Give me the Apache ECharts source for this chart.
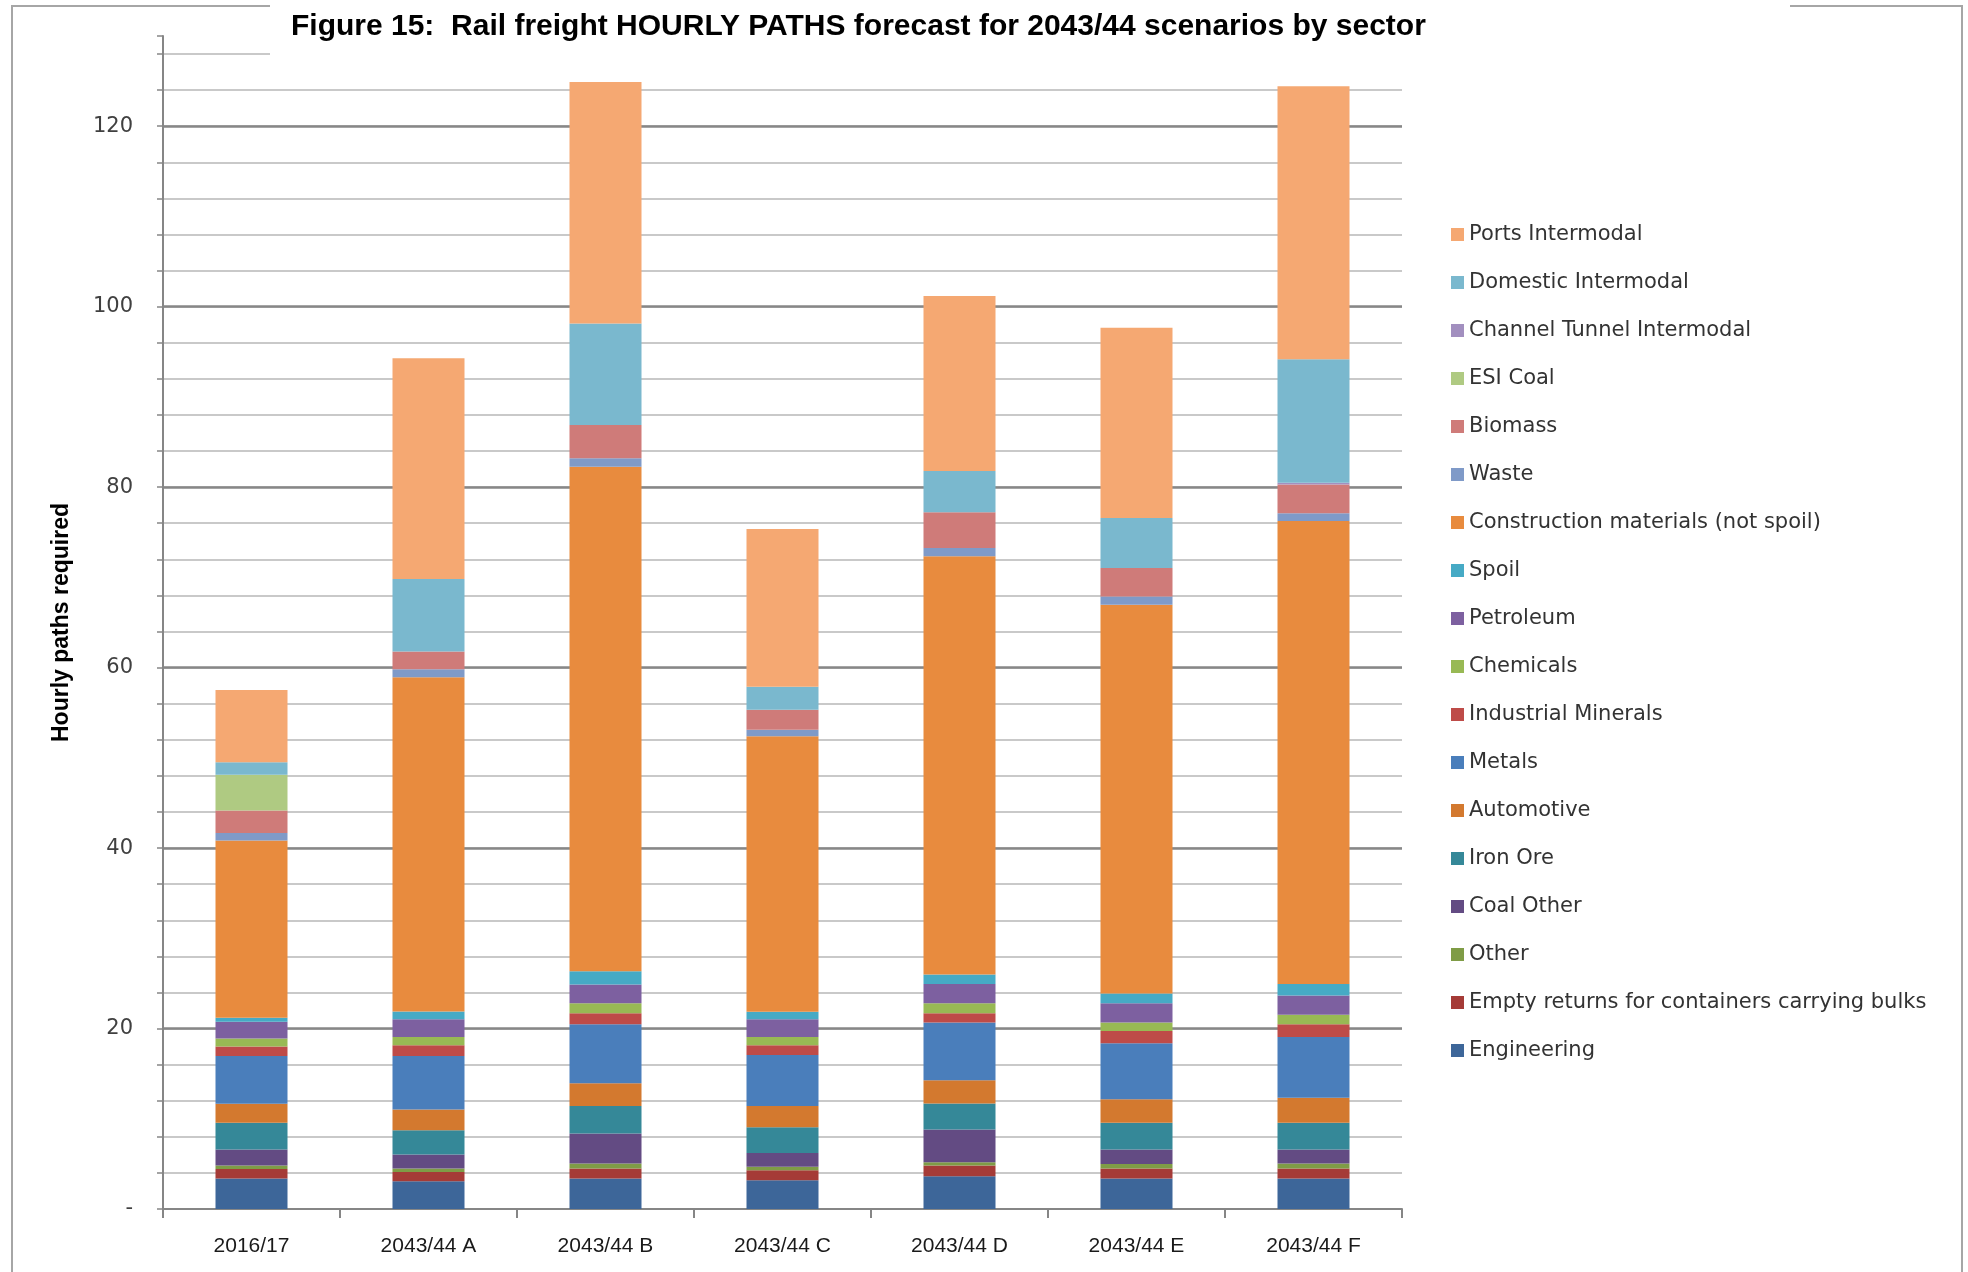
<!DOCTYPE html>
<html>
<head>
<meta charset="utf-8">
<script src="https://cdn.jsdelivr.net/npm/echarts@6/dist/echarts.min.js"></script>
<style>
html,body{margin:0;padding:0;background:#fff;}
#chart{width:1968px;height:1272px;}
</style>
</head>
<body>
<div id="chart"></div>
<script>
const categories = ['2016/17', '2043/44 A', '2043/44 B', '2043/44 C', '2043/44 D', '2043/44 E', '2043/44 F'];

// stacked bottom -> top
const engineering      = [3.37, 3.07, 3.37, 3.19, 3.63, 3.37, 3.37];
const emptyReturns     = [1.07, 1.04, 1.11, 1.11, 1.18, 1.11, 1.11];
const other            = [0.37, 0.37, 0.56, 0.37, 0.38, 0.52, 0.56];
const coalOther        = [1.78, 1.56, 3.33, 1.55, 3.62, 1.59, 1.55];
const ironOre          = [2.97, 2.70, 3.04, 2.85, 2.89, 2.97, 2.97];
const automotive       = [2.11, 2.30, 2.52, 2.34, 2.56, 2.59, 2.77];
const metals           = [5.29, 5.92, 6.55, 5.66, 6.41, 6.22, 6.74];
const industrialMin    = [1.04, 1.19, 1.22, 1.08, 1.03, 1.37, 1.41];
const chemicals        = [0.89, 0.92, 1.10, 0.92, 1.09, 0.93, 1.05];
const petroleum        = [1.85, 1.97, 2.07, 1.97, 2.15, 2.12, 2.12];
const spoil            = [0.46, 0.85, 1.48, 0.81, 1.04, 1.08, 1.29];
const construction     = [19.65, 37.04, 55.91, 30.53, 46.35, 43.09, 51.31];
const waste            = [0.81, 0.88, 0.94, 0.72, 0.93, 0.93, 0.87];
const biomass          = [2.51, 1.97, 3.70, 2.24, 3.96, 3.15, 3.18];
const esiCoal          = [3.95, 0, 0, 0, 0, 0, 0];
const channelTunnel    = [0, 0, 0, 0, 0, 0, 0.20];
const domestic         = [1.40, 8.03, 11.25, 2.55, 4.58, 5.55, 13.67];
const ports            = [8.00, 24.47, 26.75, 17.48, 19.38, 21.09, 30.26];

const seriesNames = [
  'Engineering', 'Empty returns for containers carrying bulks', 'Other', 'Coal Other',
  'Iron Ore', 'Automotive', 'Metals', 'Industrial Minerals', 'Chemicals', 'Petroleum',
  'Spoil', 'Construction materials (not spoil)', 'Waste', 'Biomass', 'ESI Coal',
  'Channel Tunnel Intermodal', 'Domestic Intermodal', 'Ports Intermodal'
];
const seriesData = [
  engineering, emptyReturns, other, coalOther, ironOre, automotive, metals, industrialMin,
  chemicals, petroleum, spoil, construction, waste, biomass, esiCoal, channelTunnel, domestic, ports
];
const seriesColors = [
  '#3D6699', '#A53B37', '#7F9C46', '#634B83', '#358898', '#D3792F', '#4A7EBB', '#BE4B48',
  '#98B954', '#7D60A0', '#46AAC5', '#E88B3E', '#7F9AC8', '#CF7B79', '#AFCA82',
  '#A28FBF', '#7AB8CE', '#F5A872'
];

const yTicks = [0, 20, 40, 60, 80, 100, 120];

const chart = echarts.init(document.getElementById('chart'), null, {renderer: 'canvas'});

const series = seriesNames.map((n, i) => ({
  name: n,
  type: 'bar',
  stack: 'total',
  barWidth: 72,
  data: seriesData[i],
  itemStyle: {color: seriesColors[i]},
  emphasis: {disabled: true},
  z: 2
}));

const option = {
  animation: false,
  backgroundColor: '#ffffff',
  title: {
    text: 'Figure 15:  Rail freight HOURLY PATHS forecast for 2043/44 scenarios by sector',
    left: 291,
    top: 12,
    padding: 0,
    z: 100,
    textStyle: {fontFamily: 'Liberation Sans', fontWeight: 'bold', fontSize: 30, color: '#000'}
  },
  graphic: [
    {type: 'rect', z: 50, shape: {x: 270, y: 0, width: 1520, height: 68}, style: {fill: '#ffffff'}},
    {type: 'polyline', z: 60, shape: {points: [[270, 6], [12, 6], [12, 1272]]}, style: {stroke: '#A6A6A6', lineWidth: 2, fill: null}},
    {type: 'polyline', z: 60, shape: {points: [[1790, 6], [1962, 6], [1962, 1272]]}, style: {stroke: '#A6A6A6', lineWidth: 2, fill: null}}
  ],
  legend: {
    orient: 'vertical',
    left: 1446,
    top: 219,
    itemWidth: 13,
    itemHeight: 13,
    itemGap: 27,
    icon: 'rect',
    selectedMode: false,
    data: seriesNames.slice().reverse(),
    textStyle: {fontFamily: 'DejaVu Sans', fontSize: 21, color: '#333333'}
  },
  grid: {left: 163, right: 566, top: 36, bottom: 63, containLabel: false},
  xAxis: {
    type: 'category',
    data: categories,
    boundaryGap: true,
    axisLine: {lineStyle: {color: '#868686', width: 2}},
    axisTick: {show: true, length: 9, alignWithLabel: false, lineStyle: {color: '#868686', width: 2}},
    axisLabel: {margin: 27, fontFamily: 'Liberation Sans', fontSize: 21, color: '#1a1a1a'}
  },
  yAxis: [
    {
      type: 'value',
      min: 0,
      max: 130,
      interval: 4,
      name: 'Hourly paths required',
      nameLocation: 'middle',
      nameGap: 90,
      nameRotate: 90,
      nameTextStyle: {fontFamily: 'Liberation Sans', fontWeight: 'bold', fontSize: 23, color: '#000'},
      axisLine: {show: true, lineStyle: {color: '#868686', width: 2}},
      axisTick: {show: true, length: 6, lineStyle: {color: '#868686', width: 1.5}},
      axisLabel: {
        margin: 30,
        fontFamily: 'DejaVu Sans',
        fontSize: 21,
        color: '#404040',
        formatter: function (v) {
          if (yTicks.indexOf(v) < 0) return '';
          return v === 0 ? '-' : String(v);
        }
      },
      splitLine: {show: true, showMaxLine: false, lineStyle: {color: '#C9C9C9', width: 2}}
    },
    {
      type: 'value',
      min: 0,
      max: 130,
      interval: 20,
      position: 'left',
      axisLine: {show: false},
      axisTick: {show: false},
      axisLabel: {show: false},
      splitLine: {show: true, showMaxLine: false, showMinLine: false, lineStyle: {color: '#878787', width: 2.5}}
    }
  ],
  series: series
};

chart.setOption(option);
</script>
</body>
</html>
